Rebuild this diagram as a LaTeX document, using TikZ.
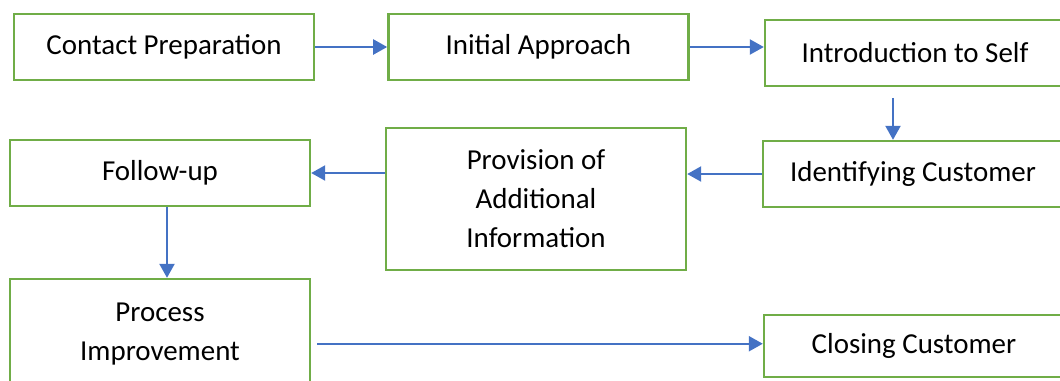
\documentclass[tikz,border=0pt]{standalone}
\usepackage{fontspec}
\setmainfont{Carlito}
\usetikzlibrary{arrows.meta, positioning, calc}
\definecolor{boxgreen}{HTML}{70AD47}
\definecolor{arrowblue}{HTML}{4472C4}
\tikzset{%
	stage/.style={draw=boxgreen, line width=1.8pt, rectangle, minimum width=225pt,%
		minimum height=49.5pt, inner sep=0pt, align=center,%
		font=\fontsize{21.7}{29.3}\selectfont},
	flow/.style={draw=arrowblue, line width=1.7pt,%
		-{Triangle[length=10.5pt, width=11.25pt]}}
}
\begin{document}
\begin{tikzpicture}[x=0.75pt, y=-0.75pt]
	\useasboundingbox (0,0) rectangle (1060,380);
	\clip (0,0) rectangle (1060,380);
	\node[stage] (prep) at (164,47) {Contact Preparation};
	\node[stage, right=54pt of prep] (approach) {Initial Approach};
	\node[stage] (intro) at (915,53) {Introduction to Self};
	\node[stage] (ident) at (913,174) {Identifying Customer};
	\node[stage, minimum height=106.5pt] (info) at (536,199) {Provision of\\Additional\\Information};
	\node[stage] (follow) at (160,173) {Follow-up};
	\node[stage, minimum height=82.5pt] (improve) at (160,334) {Process\\Improvement};
	\node[stage, minimum height=46.5pt] (closing) at (914,346) {Closing Customer};

	\coordinate (introdown) at ($(intro.south)+(-22,0)$);
	\coordinate (followdown) at ($(follow.south)+(7,0)$);

	\draw[flow] (prep) -- (approach);
	\draw[flow] (approach.east) -- (approach.east -| intro.west);
	\draw[flow, shorten <=8pt] (introdown) -- (introdown |- ident.north);
	\draw[flow] (ident.west) -- (ident.west -| info.east);
	\draw[flow] (follow.east -| info.west) -- (follow.east);
	\draw[flow] (followdown) -- (followdown |- improve.north);
	\draw[flow, shorten <=4.5pt] ([yshift=1.7pt]improve.east |- closing.west) -- ([yshift=1.7pt]closing.west);
\end{tikzpicture}
\end{document}
